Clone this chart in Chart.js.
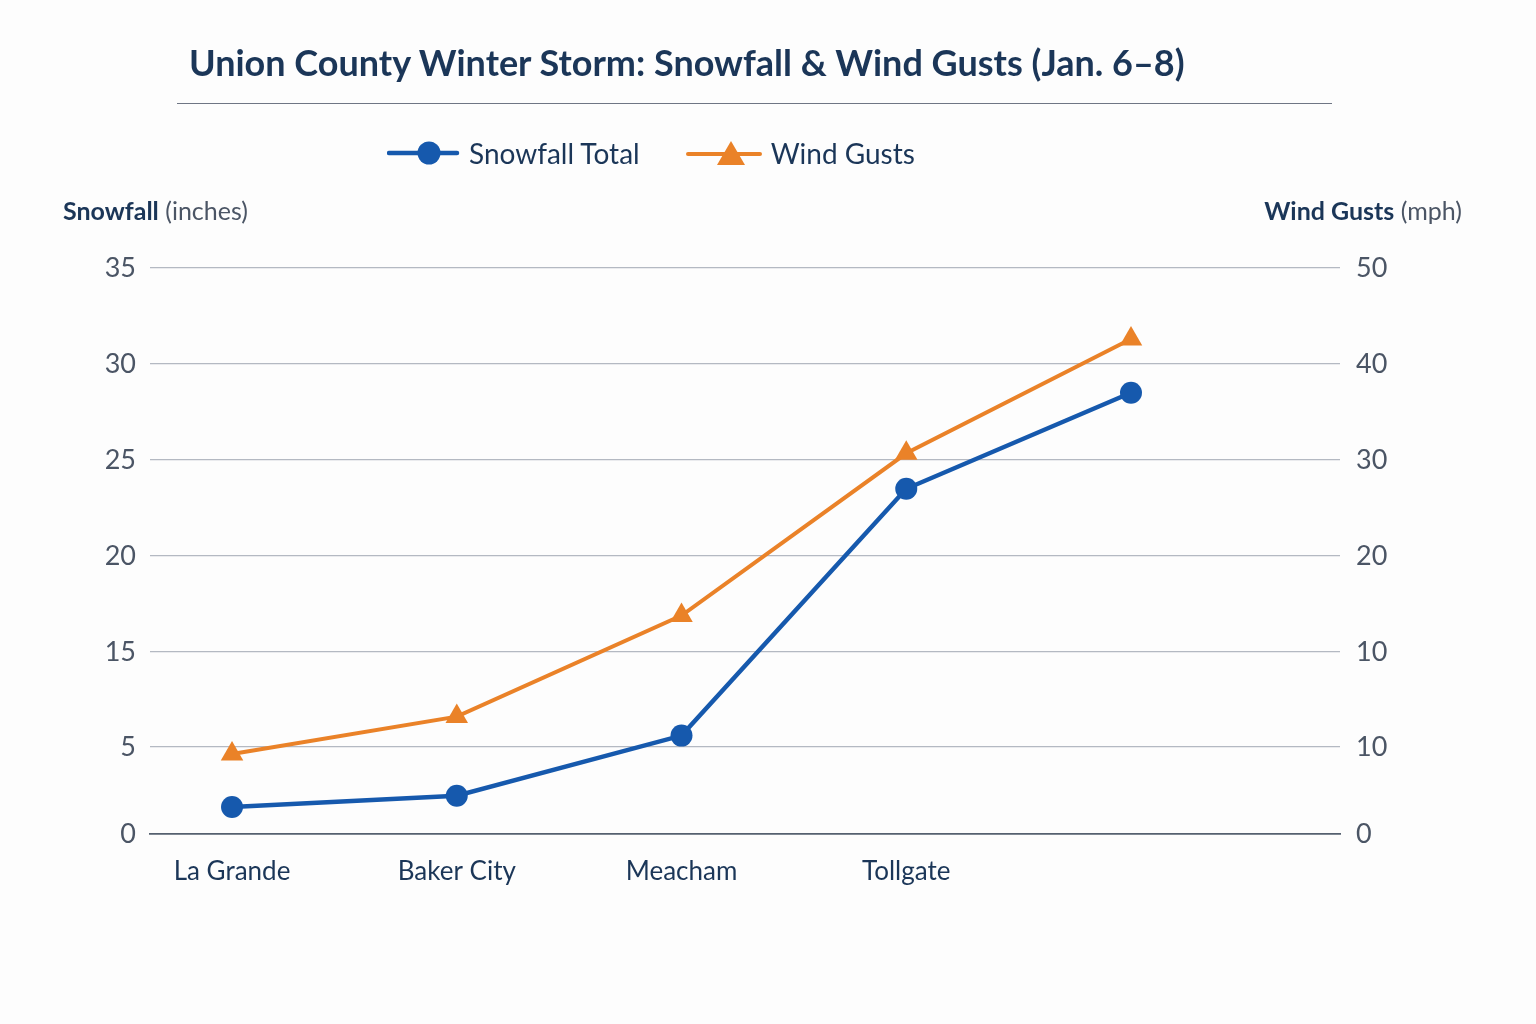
<!DOCTYPE html>
<html>
<head>
<meta charset="utf-8">
<script src="https://cdn.jsdelivr.net/npm/chart.js@4"></script>
<style>
  html, body { margin:0; padding:0; background:#fdfdfd; }
  body { width:1536px; height:1024px; position:relative; overflow:hidden; font-family: Lato, "Noto Sans", sans-serif; }
  #wrap { position:absolute; left:0; top:0; width:1536px; height:1024px; }
  .title { position:absolute; left:189px; top:40px; font-size:36px; font-weight:700; color:#1b3658; white-space:nowrap; letter-spacing:0px; }
  .rule { position:absolute; left:177px; top:103px; width:1155px; height:0; border-top:1.5px solid #6f7684; }
  .legend { position:absolute; top:133px; left:387px; height:40px; display:flex; align-items:center; font-size:28px; color:#1b3658; white-space:nowrap; }
  .legend .item { display:flex; align-items:center; }
  .legend svg { display:block; }
  .axt { position:absolute; top:195px; font-size:25px; white-space:nowrap; }
  .axt b { color:#1b3658; font-weight:700; }
  .axt span { color:#4b5565; }
</style>
</head>
<body>
<div id="wrap"><canvas id="c" width="1536" height="1024"></canvas></div>
<div class="title" id="title"></div>
<div class="rule"></div>
<div class="legend" id="legend"></div>
<div class="axt" id="axl" style="left:63px;"></div>
<div class="axt" id="axr" style="right:74px;"></div>
<script>
// ---- data ----
const titleText = "Union County Winter Storm: Snowfall & Wind Gusts (Jan. 6–8)";
const categories = ["La Grande", "Baker City", "Meacham", "Tollgate", ""];
const snowfallTotal = [1.55, 2.2, 6.2, 23.5, 28.5];
const windGusts = [4.6, 6.6, 13.8, 30.7, 42.6];
const leftTickValues = [0, 5, 15, 20, 25, 30, 35];
const leftTickLabels = ["0", "5", "15", "20", "25", "30", "35"];
const rightTickValues = [0, 5, 10, 20, 30, 40, 50];
const rightTickLabels = ["0", "10", "10", "20", "30", "40", "50"];
const seriesNames = ["Snowfall Total", "Wind Gusts"];
const axisTitleLeft = ["Snowfall", "(inches)"];
const axisTitleRight = ["Wind Gusts", "(mph)"];

// ---- styling ----
const BLUE = "#1659ad";
const ORANGE = "#ea8228";
const NAVY = "#1b3658";
const GRAY = "#4b5565";
// gridline positions as fractions of plot height (bottom -> top)
const gridFractions = [0, 87/566, 182/566, 278/566, 374/566, 470/566, 1];

document.getElementById('title').textContent = titleText;
document.getElementById('axl').innerHTML = '<b>' + axisTitleLeft[0] + '</b> <span>' + axisTitleLeft[1] + '</span>';
document.getElementById('axr').innerHTML = '<b>' + axisTitleRight[0] + '</b> <span>' + axisTitleRight[1] + '</span>';
document.getElementById('legend').innerHTML =
  '<div class="item"><svg width="74" height="30"><line x1="2" y1="15" x2="70" y2="15" stroke="' + BLUE + '" stroke-width="4.5" stroke-linecap="round"/><circle cx="42" cy="15" r="11.5" fill="' + BLUE + '"/></svg><span style="margin-left:8px">' + seriesNames[0] + '</span></div>' +
  '<div class="item" style="margin-left:46px"><svg width="78" height="30"><line x1="2" y1="16" x2="74" y2="16" stroke="' + ORANGE + '" stroke-width="4" stroke-linecap="round"/><polygon points="45,3 59,27 31,27" fill="' + ORANGE + '"/></svg><span style="margin-left:7px">' + seriesNames[1] + '</span></div>';

// piecewise scale: tick stops placed at given plot fractions
const slotStops = { ySnow: leftTickValues, yWind: rightTickValues };
class SlotScale extends Chart.LinearScale {
  determineDataLimits() {
    const v = slotStops[this.id];
    this.min = v[0]; this.max = v[v.length - 1];
  }
  buildTicks() {
    return slotStops[this.id].map(value => ({ value }));
  }
  getPixelForValue(value) {
    const v = slotStops[this.id];
    const n = v.length - 1;
    let i = 0;
    while (i < n - 1 && value > v[i + 1]) i++;
    const f = (value - v[i]) / (v[i + 1] - v[i]);
    const dec = gridFractions[i] + f * (gridFractions[i + 1] - gridFractions[i]);
    return this.getPixelForDecimal(dec);
  }
  getValueForPixel(pixel) {
    const v = slotStops[this.id];
    const dec = this.getDecimalForPixel(pixel);
    let i = 0;
    while (i < gridFractions.length - 2 && dec > gridFractions[i + 1]) i++;
    const f = (dec - gridFractions[i]) / (gridFractions[i + 1] - gridFractions[i]);
    return v[i] + f * (v[i + 1] - v[i]);
  }
}
SlotScale.id = 'slot';
SlotScale.defaults = { ticks: { callback: Chart.Ticks.formatters.numeric } };
Chart.register(SlotScale);

const pts = arr => arr.map((y, i) => ({ x: i, y }));

new Chart(document.getElementById('c'), {
  type: 'line',
  data: {
    datasets: [
      {
        label: seriesNames[1], data: pts(windGusts), yAxisID: 'yWind',
        borderColor: ORANGE, backgroundColor: ORANGE, borderWidth: 4,
        pointStyle: 'triangle', pointRadius: 13, pointHoverRadius: 13,
        pointBackgroundColor: ORANGE, pointBorderColor: ORANGE, pointBorderWidth: 0,
        tension: 0
      },
      {
        label: seriesNames[0], data: pts(snowfallTotal), yAxisID: 'ySnow',
        borderColor: BLUE, backgroundColor: BLUE, borderWidth: 4.5,
        pointStyle: 'circle', pointRadius: 11, pointHoverRadius: 11,
        pointBackgroundColor: BLUE, pointBorderColor: BLUE, pointBorderWidth: 0,
        tension: 0
      }
    ]
  },
  options: {
    responsive: false,
    animation: false,
    layout: { padding: { left: 90, right: 136, top: 268, bottom: 130 } },
    plugins: { legend: { display: false }, title: { display: false }, tooltip: { enabled: false } },
    scales: {
      x: {
        type: 'linear', min: -0.365, max: 4.93,
        afterBuildTicks: s => { s.ticks = categories.map((c, i) => ({ value: i })); },
        afterFit: s => { s.height = 60; },
        grid: { display: false, drawTicks: false },
        border: { display: true, color: '#55606f', width: 1.8 },
        ticks: {
          callback: (v) => categories[v] ?? '',
          color: NAVY, font: { family: 'Lato', size: 26 }, padding: 22, maxRotation: 0, autoSkip: false
        }
      },
      ySnow: {
        type: 'slot', position: 'left',
        afterFit: s => { s.width = 60; },
        grid: { color: ctx => ctx.index === 0 ? 'rgba(0,0,0,0)' : '#b4b9c2', lineWidth: 1.2, drawTicks: false },
        border: { display: false },
        ticks: { callback: (v, i) => leftTickLabels[i], color: GRAY, font: { family: 'Lato', size: 27 }, padding: 14 }
      },
      yWind: {
        type: 'slot', position: 'right',
        afterFit: s => { s.width = 60; },
        grid: { display: false, drawTicks: false },
        border: { display: false },
        ticks: { callback: (v, i) => rightTickLabels[i], color: GRAY, font: { family: 'Lato', size: 27 }, padding: 16 }
      }
    }
  }
});
</script>
</body>
</html>
